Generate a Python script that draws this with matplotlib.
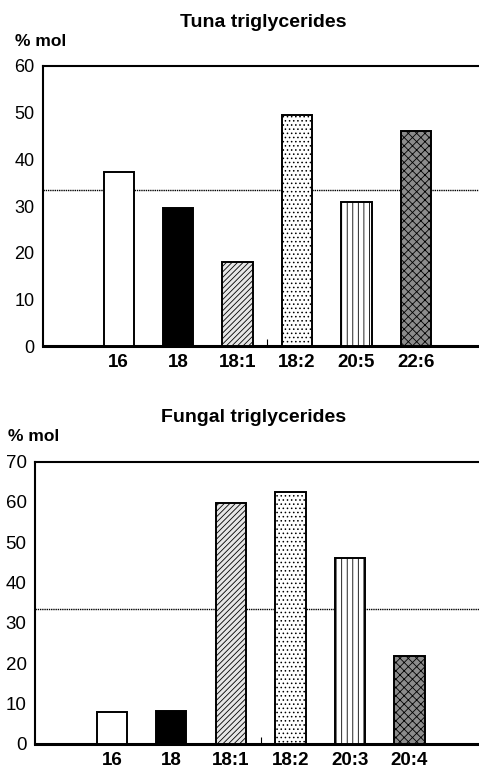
import numpy as np
import matplotlib.pyplot as plt

plt.rcParams['font.family'] = ['Liberation Sans', 'DejaVu Sans']
plt.rcParams['hatch.linewidth'] = 0.6

# data (% mol)
tuna_labels = ['16', '18', '18:1', '18:2', '20:5', '22:6']
tuna_values = [37.3, 29.5, 18.1, 49.5, 30.8, 46.1]

fungal_labels = ['16', '18', '18:1', '18:2', '20:3', '20:4']
fungal_values = [7.9, 8.2, 59.8, 62.6, 46.0, 21.7]

random_level = 100.0 / 3   # dotted reference line

faces = ['white', 'black', '0.9', 'white', 'white', '0.55']
hatches = [None, None, '//////', '....', '|||', 'xxxx']


def draw_panel(ax, labels, values, ymax, fs_y, fs_x):
    x = np.arange(len(labels))
    for i in range(len(labels)):
        ax.bar(x[i], values[i], width=0.51, color=faces[i], hatch=hatches[i],
               edgecolor='black', linewidth=1.4, zorder=3)
    ax.axhline(random_level, color='black', linestyle=(0, (1, 0.6)),
               linewidth=1.0, zorder=2)
    ax.set_ylim(0, ymax)
    ax.set_yticks(np.arange(0, ymax + 1, 10))
    ax.set_xticks(x)
    ax.set_xticklabels(labels, fontweight='bold', fontsize=fs_x)
    ax.set_xticks([2.5], minor=True)
    ax.tick_params(axis='x', which='major', length=0, pad=6)
    ax.tick_params(axis='x', which='minor', direction='in', length=5, width=0.8)
    ax.tick_params(axis='y', length=0, pad=6, labelsize=fs_y)
    ax.spines['right'].set_visible(False)
    ax.spines['top'].set_linewidth(1.5)
    ax.spines['left'].set_linewidth(1.5)
    ax.spines['bottom'].set_linewidth(2.2)


fig = plt.figure(figsize=(4.79, 7.70), dpi=100)

ax1 = fig.add_axes([0.089, 0.5506, 0.911, 0.3637])
draw_panel(ax1, tuna_labels, tuna_values, 60, 13, 13.5)
ax1.set_xlim(-1.28, 6.06)

ax2 = fig.add_axes([0.0731, 0.0342, 0.9269, 0.3662])
draw_panel(ax2, fungal_labels, fungal_values, 70, 13.5, 13.5)
ax2.set_xlim(-1.29, 6.17)

fig.text(0.55, 0.9714, 'Tuna triglycerides', fontweight='bold', fontsize=14,
         ha='center', va='center')
fig.text(0.0313, 0.9455, '% mol', fontweight='bold', fontsize=12.5,
         ha='left', va='center')
fig.text(0.53, 0.4584, 'Fungal triglycerides', fontweight='bold', fontsize=14,
         ha='center', va='center')
fig.text(0.0167, 0.4325, '% mol', fontweight='bold', fontsize=12.5,
         ha='left', va='center')

fig.savefig('out.png', dpi=100)
